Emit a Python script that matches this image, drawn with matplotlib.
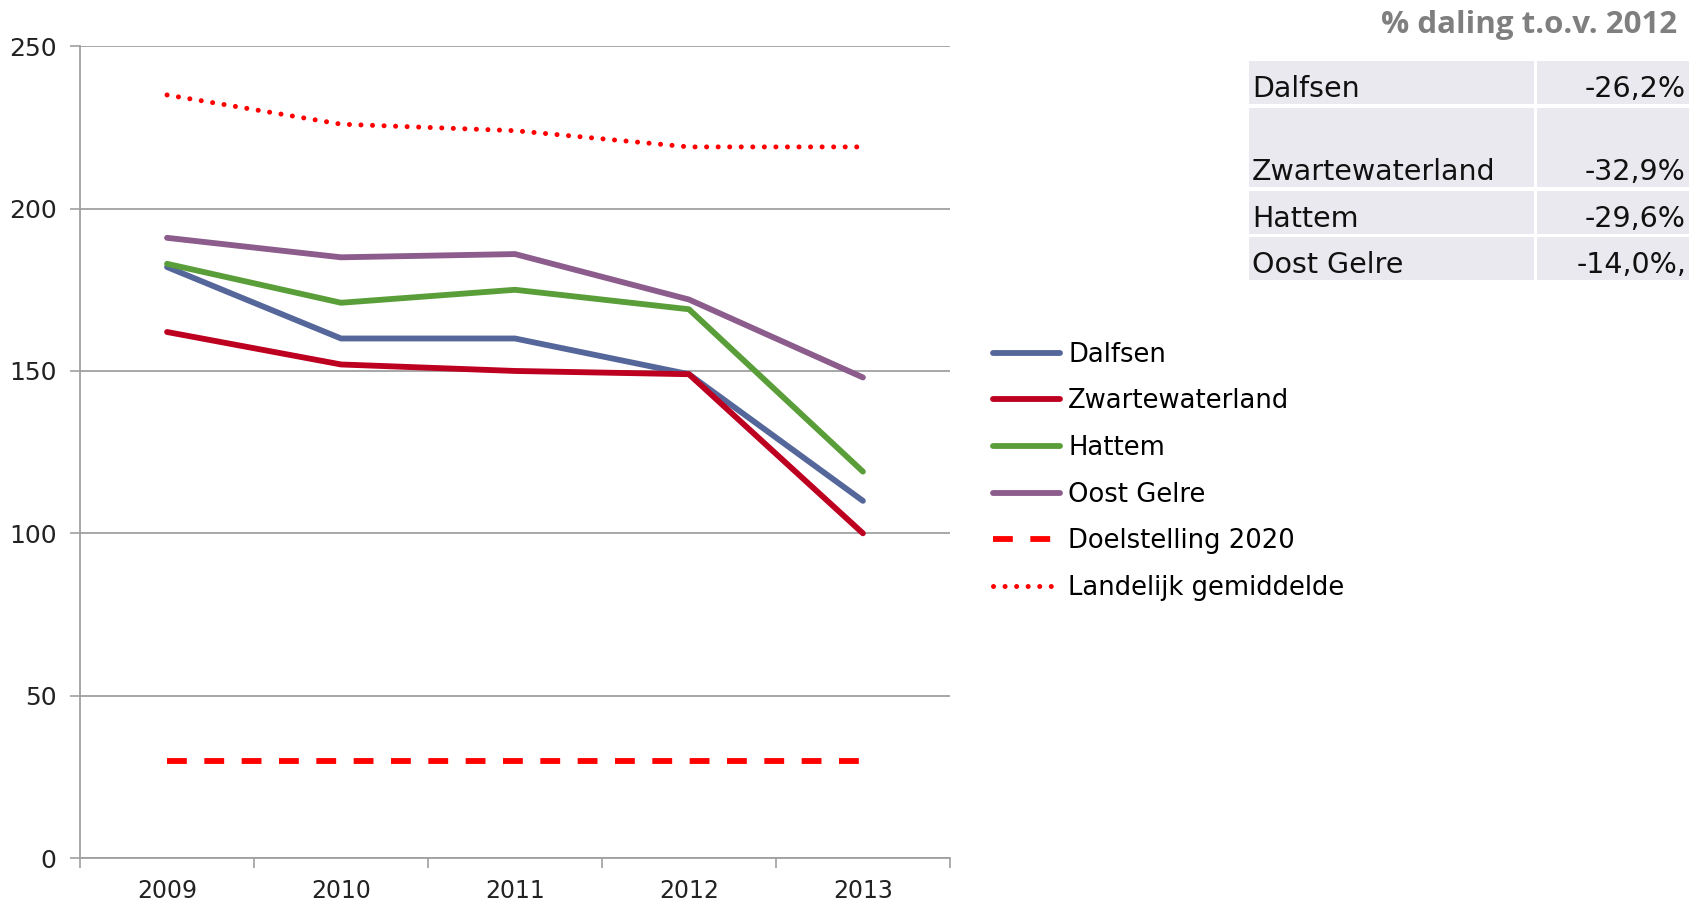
import matplotlib.pyplot as plt
from matplotlib.patches import Rectangle

plt.rcParams["font.family"] = ["DejaVu Sans"]

# data
jaren = ["2009", "2010", "2011", "2012", "2013"]
dalfsen = [182, 160, 160, 149, 110]
zwartewaterland = [162, 152, 150, 149, 100]
hattem = [183, 171, 175, 169, 119]
oost_gelre = [191, 185, 186, 172, 148]
doelstelling = [30, 30, 30, 30, 30]
landelijk = [235, 226, 224, 219, 219]

tabel_namen = ["Dalfsen", "Zwartewaterland", "Hattem", "Oost Gelre"]
tabel_waarden = ["-26,2%", "-32,9%", "-29,6%", "-14,0%,"]

fig = plt.figure(figsize=(16.89, 9.05), dpi=100)
ax = fig.add_axes([0.0474, 0.0519, 0.515, 0.897])

x = range(len(jaren))
lw = 4.2
ax.plot(x, dalfsen, color="#55679A", lw=lw, solid_capstyle="round", label="Dalfsen")
ax.plot(x, zwartewaterland, color="#BE0020", lw=lw, solid_capstyle="round", label="Zwartewaterland")
ax.plot(x, hattem, color="#5A9E3A", lw=lw, solid_capstyle="round", label="Hattem")
ax.plot(x, oost_gelre, color="#8B5C8C", lw=lw, solid_capstyle="round", label="Oost Gelre")
ax.plot(x, doelstelling, color="#FF0000", lw=lw, linestyle=(0, (3.4, 3.0)), label="Doelstelling 2020")
ax.plot(x, landelijk, color="#FF0000", lw=3.6, linestyle=(0, (0.01, 2.3)),
        dash_capstyle="round", label="Landelijk gemiddelde")

ax.set_xlim(-0.5, 4.5)
ax.set_ylim(0, 250)
ax.set_yticks(range(0, 251, 50))
ax.set_xticks(list(x))
ax.set_xticklabels(jaren)
ax.set_xticks([i - 0.5 for i in range(6)], minor=True)
ax.tick_params(axis="x", which="major", length=0, pad=15, labelsize=17, colors="#222222")
ax.tick_params(axis="x", which="minor", length=7, width=1.2, color="#A0A0A0", direction="out")
ax.tick_params(axis="y", length=7, width=1.2, color="#A0A0A0", pad=10, labelsize=18, labelcolor="#222222")

ax.grid(axis="y", color="#A0A0A0", lw=1.3)
ax.set_axisbelow(True)
for s in ["top", "right"]:
    ax.spines[s].set_visible(False)
for s in ["left", "bottom"]:
    ax.spines[s].set_color("#A0A0A0")
    ax.spines[s].set_linewidth(1.3)

fig.legend(loc="upper left", bbox_to_anchor=(0.582, 0.634), frameon=False,
           fontsize=18.6, handlelength=2.6, handletextpad=0.3, labelspacing=0.8,
           borderaxespad=0)

# tabel rechtsboven
fig.text(1677 / 1689, 1 - 25 / 905, "% daling t.o.v. 2012", ha="right", va="center",
         fontsize=22.5, fontweight="bold", color="#7F7F7F", family=["Open Sans", "DejaVu Sans"])

rijen = [(61, 104), (108, 187), (191, 234), (237, 280)]
for (top, bot), naam, waarde in zip(rijen, tabel_namen, tabel_waarden):
    for x0, x1 in [(1249, 1534), (1537, 1689)]:
        fig.patches.append(Rectangle((x0 / 1689, 1 - bot / 905), (x1 - x0) / 1689,
                                     (bot - top) / 905, transform=fig.transFigure,
                                     facecolor="#E9E9EF", edgecolor="none"))
    yt = 1 - (bot - 15) / 905
    fig.text(1252 / 1689, yt, naam, ha="left", va="center", fontsize=20.5, color="#111111")
    fig.text(1686 / 1689, yt, waarde, ha="right", va="center", fontsize=20.5, color="#111111")

fig.savefig("out.png", dpi=100)
